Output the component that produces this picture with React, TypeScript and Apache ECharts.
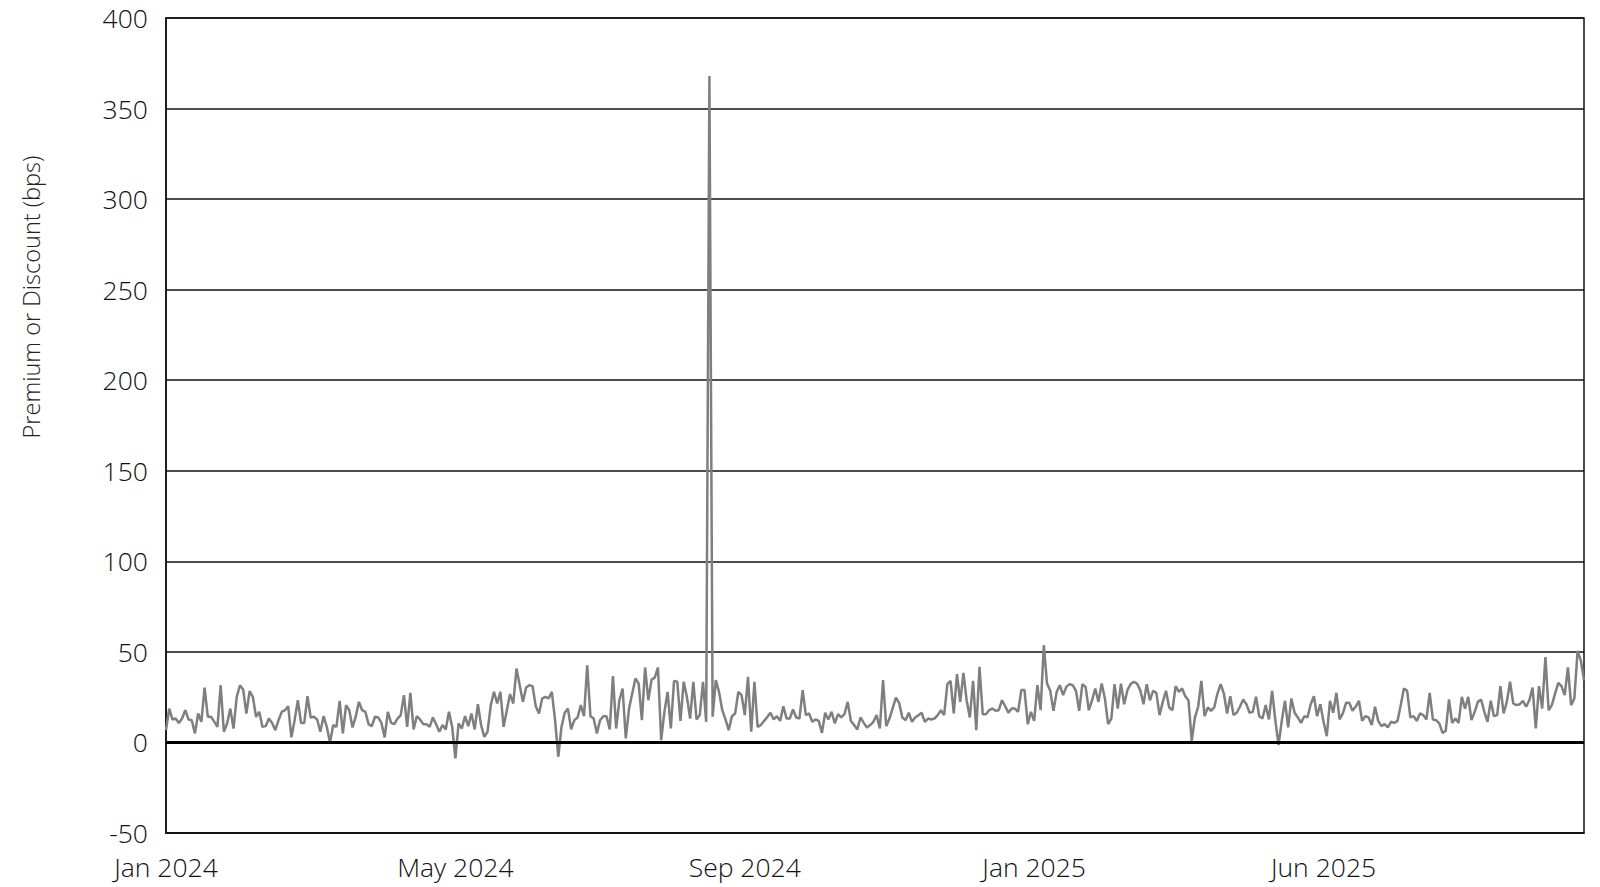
import React, { useEffect, useRef } from "react";
import * as echarts from "echarts";

// Premium / discount in bps, one value per trading day
const seg1 = [6.8, 18.7, 12.7, 13.2, 10.8, 13.2, 17.8, 12.7, 12.3, 5.0, 16.0, 11.4, 30.3, 14.2, 14.2, 11.5, 8.6, 31.6, 5.9, 10.5, 18.7, 7.7, 25.2, 31.6, 29.2, 16.0, 28.3, 25.2, 14.2, 16.9, 8.6, 9.0, 13.2, 10.8, 6.8, 12.3];
const seg2 = [16.9, 17.8, 20.0, 2.8, 12.3, 23.3, 10.8, 10.8, 25.5, 13.8, 14.2, 12.7, 5.9, 14.5, 8.6, 0, 9.6, 8.6, 23.0, 5.0, 20.6, 17.8, 8.3, 14.2, 22.4, 17.8, 16.9, 10.1, 9.0, 14.2, 13.8, 10.8, 2.8, 16.9, 10.8, 10.1, 13.2, 15.1];
const seg3 = [26.1, 8.6, 27.4, 7.2, 14.5, 12.7, 10.1, 10.1, 8.6, 13.8, 10.1, 5.9, 9.6, 7.2, 16.9, 8.6, -8.8, 10.5, 7.7, 14.5, 9.0, 16.0, 7.2, 21.1, 9.6, 3.1, 5.9, 20.6, 27.9, 21.5, 27.9, 8.6, 17.8, 26.7, 21.5, 40.8];
const seg4 = [31.6, 22.4, 30.3, 31.6, 31.1, 20.0, 16.0, 24.3, 25.2, 24.3, 27.9, 12.3, -7.9, 8.6, 16.4, 18.7, 7.2, 12.3, 13.8, 20.6, 14.5, 42.6, 14.5, 13.2, 5.0, 12.3, 14.5, 14.5, 7.2, 36.6, 7.7, 23.3, 29.8, 2.2, 18.7, 27.0, 35.3, 32.5];
const seg5 = [12.3, 41.4, 23.3, 34.7, 35.8, 41.4, 1.3, 16.9, 27.9, 7.7, 34.0, 33.5, 11.9, 33.5, 25.2, 13.2, 33.5, 12.7, 15.1, 33.5, 11.4, 368, 14.2, 34.4, 27.9, 17.8, 12.7, 6.8, 14.5, 16.0, 27.9, 26.1, 15.1, 36.2, 5.9, 33.5, 8.6];
const seg6 = [9.6, 11.9, 14.0, 16.4, 12.7, 14.5, 11.9, 20.0, 13.2, 13.2, 18.2, 13.8, 13.2, 28.9, 15.1, 16.0, 11.4, 12.7, 11.9, 5.3, 16.4, 12.7, 16.9, 10.5, 15.6, 13.8, 15.6, 22.4, 11.9, 9.6, 7.2, 13.8, 10.8, 8.3, 9.6, 11.4, 15.1, 7.7, 34.4];
const seg7 = [9.0, 13.2, 19.0, 24.8, 21.9, 13.8, 12.3, 16.4, 11.4, 13.8, 15.0, 16.4, 11.4, 13.2, 12.7, 13.2, 15.1, 17.8, 15.1, 32.2, 34.0, 16.0, 37.7, 22.4, 38.4, 23.3, 13.8, 34.0, 6.8, 41.7, 15.6, 15.6, 17.8, 18.7, 17.5, 17.8, 23.3];
const seg8 = [20.0, 16.4, 18.7, 18.7, 16.9, 28.9, 28.9, 10.1, 16.9, 11.9, 31.6, 17.8, 53.7, 32.5, 28.5, 17.5, 27.9, 31.6, 26.1, 30.7, 32.2, 31.6, 28.5, 17.5, 32.2, 30.7, 17.8, 23.3, 29.8, 22.4, 32.5, 24.3, 10.1, 13.2, 32.2, 18.7, 32.5];
const seg9 = [21.1, 28.9, 32.2, 33.5, 32.5, 28.9, 21.1, 32.2, 23.3, 28.5, 27.4, 15.1, 22.4, 28.5, 19.3, 17.8, 31.1, 27.9, 29.8, 25.5, 23.3, 0.9, 13.8, 19.7, 34.0, 14.5, 19.3, 17.5, 19.3, 27.0, 32.2, 27.0, 16.0, 25.5, 15.1, 16.4, 19.7];
const seg10 = [23.7, 21.1, 16.4, 16.9, 25.2, 14.5, 13.2, 20.6, 12.7, 28.5, 12.3, -1.5, 11.9, 23.0, 8.3, 24.3, 16.4, 13.8, 10.8, 14.5, 13.8, 21.1, 25.5, 14.5, 21.1, 11.4, 3.5, 23.0, 16.4, 27.4, 12.7, 16.0, 21.9, 21.9, 17.5, 19.7, 23.0];
const seg11 = [11.9, 14.5, 13.8, 9.6, 19.7, 11.9, 9.0, 10.1, 8.3, 11.4, 10.8, 11.9, 20.6, 29.8, 28.5, 13.8, 14.5, 11.9, 16.0, 15.1, 12.7, 27.4, 12.7, 12.3, 10.5, 5.3, 6.4, 23.7, 10.8, 13.2, 10.8, 25.2, 18.7, 25.2, 12.3, 16.9, 22.4];
const seg12 = [23.7, 16.9, 11.4, 23.0, 14.5, 15.1, 31.1, 16.0, 22.4, 33.5, 21.5, 20.6, 21.1, 23.0, 19.7, 23.3, 30.3, 7.7, 31.1, 18.7, 47.2, 17.8, 20.6, 27.0, 32.9, 31.1, 26.1, 41.4, 20.6, 24.3, 50.5, 45.4, 34.4];

const values: number[] = [
  ...seg1, ...seg2, ...seg3, ...seg4, ...seg5, ...seg6,
  ...seg7, ...seg8, ...seg9, ...seg10, ...seg11, ...seg12,
];

const tickLabels = ["Jan 2024", "May 2024", "Sep 2024", "Jan 2025", "Jun 2025"];
const labelEvery = 90;
const categories = values.map((_, i) => String(i));
const yTitle = "Premium or Discount (bps)";

const yTicks = { min: -50, max: 400, interval: 50 };

export default function App() {
  const ref = useRef<HTMLDivElement>(null);
  useEffect(() => {
    if (!ref.current) return;
    const chart = echarts.init(ref.current, null, { renderer: "svg" });
    const font = "'Open Sans', 'Noto Sans', sans-serif";
    chart.setOption({
      animation: false,
      backgroundColor: "#ffffff",
      grid: {
        left: 166,
        right: 16,
        top: 18,
        bottom: 54,
        show: true,
        borderColor: "#111",
        borderWidth: 1.5,
        backgroundColor: "transparent",
      },
      graphic: [
        {
          type: "text",
          x: 31,
          y: 297,
          rotation: Math.PI / 2,
          style: {
            text: yTitle,
            fontSize: 23.5,
            fontFamily: font,
            fontWeight: 300,
            fill: "#222",
            textAlign: "center",
            textVerticalAlign: "middle",
          },
        },
      ],
      xAxis: {
        type: "category",
        data: categories,
        boundaryGap: false,
        axisLine: { show: true, onZero: false, lineStyle: { color: "#111", width: 1.5 } },
        axisTick: { show: false },
        splitLine: { show: false },
        axisLabel: {
          interval: labelEvery - 1,
          margin: 20,
          fontSize: 26.5,
          fontFamily: font,
          fontWeight: 300,
          color: "#111",
          formatter: (_v: string, i: number) => tickLabels[Math.round(i / labelEvery)] ?? "",
        },
      },
      yAxis: {
        type: "value",
        min: yTicks.min,
        max: yTicks.max,
        interval: yTicks.interval,
        axisLine: { show: true, lineStyle: { color: "#111", width: 1.5 } },
        axisTick: { show: false },
        splitLine: { show: true, lineStyle: { color: "#111", width: 1.5 } },
        axisLabel: {
          margin: 18,
          fontSize: 26.5,
          fontFamily: font,
          fontWeight: 300,
          color: "#111",
        },
      },
      series: [
        {
          type: "line",
          data: values,
          symbol: "none",
          lineStyle: { color: "#7f7f7f", width: 2.5 },
          markLine: {
            silent: true,
            symbol: "none",
            label: { show: false },
            lineStyle: { color: "#000", width: 3, type: "solid" },
            data: [{ yAxis: 0 }],
          },
          z: 3,
        },
      ],
    });
    return () => chart.dispose();
  }, []);
  return (
    <div
      ref={ref}
      style={{ position: "fixed", left: 0, top: 0, width: 1600, height: 887 }}
    />
  );
}
